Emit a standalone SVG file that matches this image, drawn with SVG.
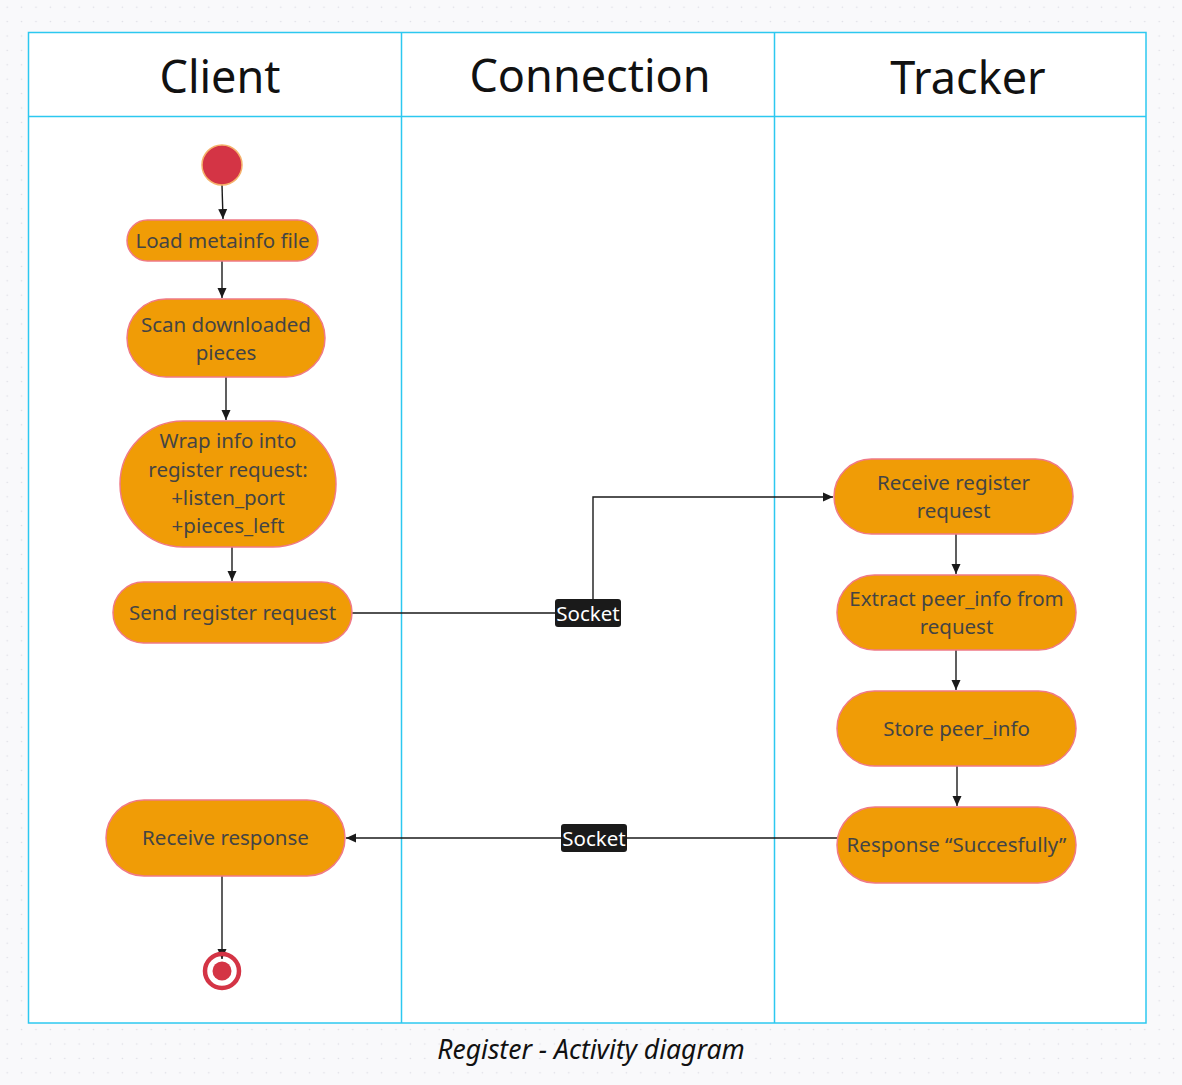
<svg xmlns="http://www.w3.org/2000/svg" width="1182" height="1085" viewBox="0 0 1182 1085">
<style>
.lane{fill:#ffffff;stroke:#2cc8f0;stroke-width:1.5}
.hdr{font-family:"Noto Sans","Open Sans",sans-serif;font-size:45px;fill:#111;text-anchor:middle}
.node{fill:#f09c06;stroke:#f07a86;stroke-width:1.5}
.t{font-family:"Noto Sans","Open Sans",sans-serif;font-size:20.5px;fill:#444;text-anchor:middle}
.edge{fill:none;stroke:#1a1a1a;stroke-width:1.4}
.lbl{fill:#1a1a1a}
.lt{font-family:"Noto Sans","Open Sans",sans-serif;font-size:20.5px;fill:#fff;text-anchor:middle}
.cap{font-family:"Noto Sans","Open Sans",sans-serif;font-size:26.5px;font-style:italic;fill:#111;text-anchor:middle}
</style>
<defs>
<pattern id="dots" width="14.4" height="14.4" patternUnits="userSpaceOnUse">
<circle cx="7.2" cy="7.2" r="0.8" fill="#dcdce4"/>
</pattern>
<marker id="arr" markerWidth="11" markerHeight="11" refX="10" refY="5.5" orient="auto" markerUnits="userSpaceOnUse">
<path d="M0,1 L10,5.5 L0,10 Z" fill="#1a1a1a"/>
</marker>
</defs>
<rect width="1182" height="1085" fill="#f9f9fb"/>
<rect width="1182" height="1085" fill="url(#dots)"/>

<g id="lanes">
<rect class="lane" x="28.5" y="32.5" width="1117.5" height="990.5"/>
<line class="lane" x1="28.5" y1="116.5" x2="1146" y2="116.5"/>
<line class="lane" x1="401.5" y1="32.5" x2="401.5" y2="1023"/>
<line class="lane" x1="774.5" y1="32.5" x2="774.5" y2="1023"/>
<text class="hdr" x="220" y="93">Client</text>
<text class="hdr" x="590" y="92">Connection</text>
<text class="hdr" x="968" y="94">Tracker</text>
</g>

<g id="connectors">
<path class="edge" d="M222,185 L223,219" marker-end="url(#arr)"/>
<path class="edge" d="M222,261 L222,298" marker-end="url(#arr)"/>
<path class="edge" d="M226,377 L226,420" marker-end="url(#arr)"/>
<path class="edge" d="M232,547 L232,581" marker-end="url(#arr)"/>
<path class="edge" d="M352,613 L593,613 L593,497 L833,497" marker-end="url(#arr)"/>
<path class="edge" d="M956,534 L956,574" marker-end="url(#arr)"/>
<path class="edge" d="M956,650 L956,690" marker-end="url(#arr)"/>
<path class="edge" d="M957,766 L957,806" marker-end="url(#arr)"/>
<path class="edge" d="M837,838 L346,838" marker-end="url(#arr)"/>
<path class="edge" d="M222,876 L222,959" marker-end="url(#arr)"/>
<g id="socket1">
<rect class="lbl" x="555" y="599" width="66" height="28" rx="3"/>
<text class="t lt" x="588" y="620.5">Socket</text>
</g>
<g id="socket2">
<rect class="lbl" x="561" y="824" width="66" height="28" rx="3"/>
<text class="t lt" x="594" y="845.5">Socket</text>
</g>
</g>

<g id="start">
<circle cx="222" cy="165" r="20" fill="#d43445" stroke="#f5b26b" stroke-width="1.5"/>
</g>
<g id="load">
<rect class="node" x="127" y="220" width="191" height="41" rx="20.5"/>
<text class="t" x="222.5" y="247.5">Load metainfo file</text>
</g>
<g id="scan">
<rect class="node" x="127" y="299" width="198" height="78" rx="39"/>
<text class="t" x="226" y="332">Scan downloaded</text>
<text class="t" x="226" y="360">pieces</text>
</g>
<g id="wrap">
<rect class="node" x="120" y="421" width="216" height="126" rx="63"/>
<text class="t" x="228" y="448">Wrap info into</text>
<text class="t" x="228" y="477">register request:</text>
<text class="t" x="228" y="505">+listen_port</text>
<text class="t" x="228" y="533">+pieces_left</text>
</g>
<g id="send">
<rect class="node" x="113" y="582" width="239" height="61" rx="30.5"/>
<text class="t" x="232.5" y="620">Send register request</text>
</g>
<g id="recvresp">
<rect class="node" x="106" y="800" width="239" height="76" rx="38"/>
<text class="t" x="225.5" y="845">Receive response</text>
</g>
<g id="end">
<circle cx="222" cy="971" r="17" fill="none" stroke="#d43445" stroke-width="4.5"/>
<circle cx="222" cy="971" r="9.5" fill="#d43445"/>
</g>
<g id="recvreg">
<rect class="node" x="834" y="459" width="239" height="75" rx="37.5"/>
<text class="t" x="953.5" y="490">Receive register</text>
<text class="t" x="953.5" y="518">request</text>
</g>
<g id="extract">
<rect class="node" x="837" y="575" width="239" height="75" rx="37.5"/>
<text class="t" x="956.5" y="606">Extract peer_info from</text>
<text class="t" x="956.5" y="634">request</text>
</g>
<g id="store">
<rect class="node" x="837" y="691" width="239" height="75" rx="37.5"/>
<text class="t" x="956.5" y="736">Store peer_info</text>
</g>
<g id="response">
<rect class="node" x="837" y="807" width="239" height="76" rx="38"/>
<text class="t" x="956.5" y="852">Response “Succesfully”</text>
</g>

<text class="cap" x="591" y="1059">Register - Activity diagram</text>
</svg>
